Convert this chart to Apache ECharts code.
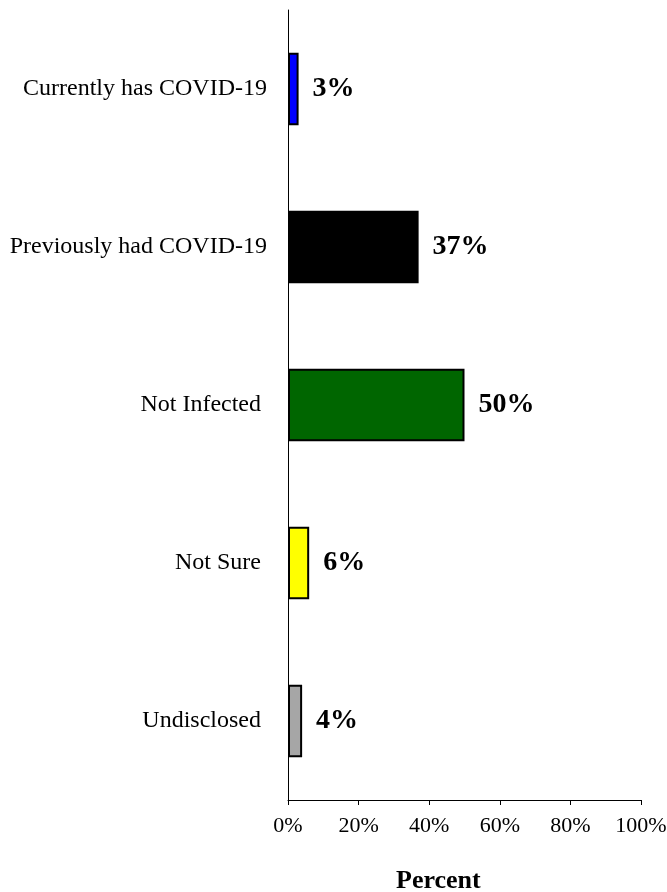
<!DOCTYPE html>
<html>
<head>
<meta charset="utf-8">
<script src="https://cdn.jsdelivr.net/npm/echarts@6/dist/echarts.min.js"></script>
<style>
  html, body { margin: 0; padding: 0; background: #fff; }
  #chart { width: 667px; height: 892px; }
</style>
</head>
<body>
<div id="chart"></div>
<script>
// Infection status categories, top to bottom
const categories = ['Currently has COVID-19', 'Previously had COVID-19', 'Not Infected ', 'Not Sure ', 'Undisclosed '];
// Share of respondents (%)
const values = [3, 37, 50, 6, 4];
// Fill colour for each bar
const barColors = ['#0000FF', '#000000', '#006600', '#FFFF00', '#A6A6A6'];
// X axis tick values (%)
const xTicks = [0, 20, 40, 60, 80, 100];

const serif = '"Liberation Serif", "Times New Roman", serif';

const chart = echarts.init(document.getElementById('chart'), null, { renderer: 'canvas' });

chart.setOption({
  animation: false,
  backgroundColor: '#ffffff',
  grid: { left: 288, right: 26, top: 10, bottom: 92, containLabel: false, outerBoundsMode: 'none' },
  xAxis: {
    type: 'value',
    min: xTicks[0],
    max: xTicks[xTicks.length - 1],
    interval: xTicks[1] - xTicks[0],
    axisLine: { show: true, lineStyle: { color: '#000', width: 1 } },
    axisTick: { show: true, length: 5, lineStyle: { color: '#000', width: 1 } },
    splitLine: { show: false },
    axisLabel: {
      formatter: v => v + '%',
      fontFamily: serif,
      fontSize: 22,
      color: '#000',
      margin: 15
    }
  },
  yAxis: {
    type: 'category',
    data: categories,
    inverse: true,
    axisLine: { show: true, lineStyle: { color: '#000', width: 1 } },
    axisTick: { show: false },
    axisLabel: {
      fontFamily: serif,
      fontSize: 24,
      color: '#000',
      margin: 21
    }
  },
  graphic: [{
    type: 'text',
    left: 396,
    top: 868,
    style: {
      text: 'Percent',
      font: 'bold 26px ' + serif,
      fill: '#000'
    }
  }],
  series: [{
    type: 'bar',
    data: values.map((v, i) => ({
      value: v,
      itemStyle: { color: barColors[i] }
    })),
    barCategoryGap: '54%',
    itemStyle: { borderColor: '#000', borderWidth: 2 },
    label: {
      show: true,
      position: 'right',
      distance: 14,
      formatter: p => p.value + '%',
      fontFamily: serif,
      fontWeight: 'bold',
      fontSize: 28,
      color: '#000'
    }
  }]
});
</script>
</body>
</html>
